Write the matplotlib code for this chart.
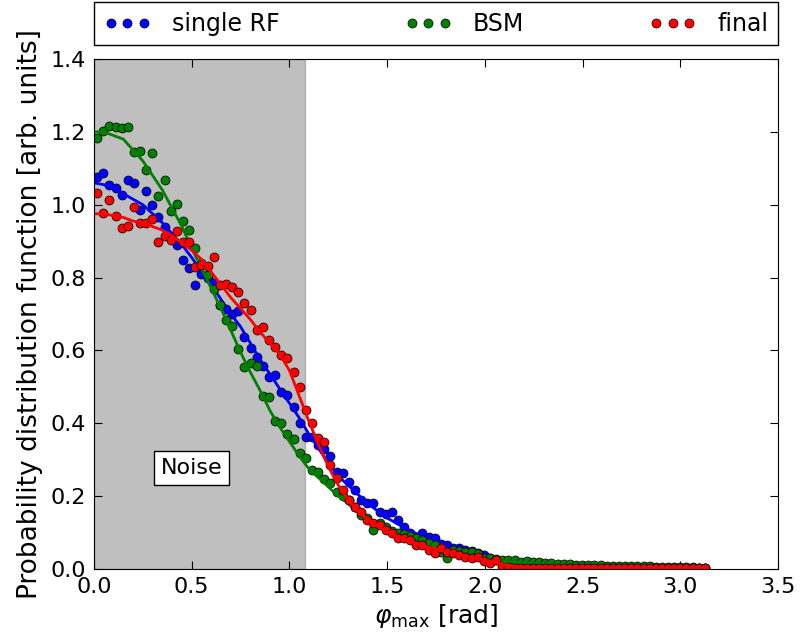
#!/usr/bin/env python3
"""Probability distribution of phi_max for single RF, BSM and final cases."""

import matplotlib
matplotlib.use('Agg')
import matplotlib.pyplot as plt
import numpy as np

# bin centres over [0, pi], 100 bins
phi = (np.arange(100) + 0.5) * np.pi / 100

single_rf = [1.077, 1.088, 1.054, 1.045, 1.027, 1.068, 1.059, 0.985, 1.037, 1.000,
             0.967, 0.938, 0.908, 0.890, 0.848, 0.825, 0.780, 0.810, 0.800, 0.784,
             0.725, 0.713, 0.700, 0.709, 0.638, 0.606, 0.581, 0.557, 0.528, 0.532,
             0.487, 0.478, 0.446, 0.400, 0.363, 0.363, 0.340, 0.330, 0.310, 0.267,
             0.263, 0.240, 0.217, 0.190, 0.180, 0.180, 0.157, 0.150, 0.157, 0.135,
             0.116, 0.098, 0.089, 0.098, 0.089, 0.084, 0.070, 0.066, 0.057, 0.057,
             0.052, 0.050, 0.045, 0.038, 0.029, 0.025, 0.015, 0.011, 0.008, 0.006,
             0.005, 0.005, 0.004, 0.004, 0.004, 0.004, 0.003, 0.003, 0.003, 0.003,
             0.003, 0.003, 0.003, 0.002, 0.002, 0.002, 0.002, 0.002, 0.002, 0.002,
             0.002, 0.002, 0.002, 0.002, 0.002, 0.002, 0.002, 0.002, 0.002, 0.002]

bsm = [1.182, 1.203, 1.217, 1.214, 1.210, 1.212, 1.146, 1.148, 1.095, 1.143,
       1.024, 1.068, 0.984, 1.002, 0.955, 0.930, 0.880, 0.840, 0.807, 0.768,
       0.725, 0.683, 0.667, 0.603, 0.554, 0.566, 0.557, 0.475, 0.471, 0.407,
       0.400, 0.370, 0.356, 0.318, 0.304, 0.272, 0.267, 0.246, 0.235, 0.212,
       0.200, 0.190, 0.170, 0.148, 0.140, 0.107, 0.125, 0.115, 0.105, 0.100,
       0.095, 0.090, 0.085, 0.080, 0.072, 0.065, 0.048, 0.030, 0.052, 0.050,
       0.048, 0.048, 0.040, 0.029, 0.030, 0.028, 0.026, 0.025, 0.025, 0.020,
       0.021, 0.019, 0.018, 0.017, 0.016, 0.015, 0.014, 0.013, 0.012, 0.012,
       0.011, 0.010, 0.010, 0.009, 0.009, 0.008, 0.008, 0.008, 0.007, 0.007,
       0.007, 0.006, 0.006, 0.006, 0.005, 0.005, 0.005, 0.005, 0.004, 0.004]

final = [1.031, 0.976, 1.013, 0.969, 0.935, 0.942, 0.995, 0.949, 0.949, 0.960,
         0.898, 0.914, 0.903, 0.929, 0.898, 0.898, 0.830, 0.834, 0.832, 0.856,
         0.780, 0.781, 0.775, 0.761, 0.729, 0.711, 0.656, 0.663, 0.630, 0.610,
         0.587, 0.578, 0.542, 0.500, 0.436, 0.400, 0.359, 0.349, 0.285, 0.249,
         0.217, 0.189, 0.171, 0.157, 0.135, 0.125, 0.121, 0.107, 0.098, 0.084,
         0.084, 0.080, 0.066, 0.066, 0.052, 0.043, 0.057, 0.048, 0.043, 0.038,
         0.034, 0.029, 0.034, 0.023, 0.016, 0.025, 0.006, 0.005, 0.004, 0.003,
         0.003, 0.003, 0.003, 0.003, 0.003, 0.003, 0.003, 0.002, 0.002, 0.002,
         0.002, 0.002, 0.002, 0.002, 0.002, 0.002, 0.002, 0.002, 0.002, 0.002,
         0.002, 0.002, 0.002, 0.002, 0.002, 0.002, 0.002, 0.002, 0.002, 0.002]

# smooth fits
phi_fit = [0.0, 0.05, 0.1, 0.15, 0.2, 0.25, 0.3, 0.35, 0.4, 0.45,
           0.5, 0.55, 0.6, 0.65, 0.7, 0.75, 0.8, 0.85, 0.9, 0.95,
           1.0, 1.05, 1.1, 1.15, 1.2, 1.25, 1.3, 1.35, 1.4, 1.45,
           1.5, 1.55, 1.6, 1.65, 1.7, 1.75, 1.8, 1.85, 1.9, 1.95,
           2.0, 2.05, 2.1, 2.15, 2.2, 2.4, 2.6, 2.8, 3.0, 3.14]

single_rf_fit = [1.060, 1.055, 1.045, 1.030, 1.015, 1.000, 0.975, 0.950, 0.920, 0.890,
                 0.855, 0.815, 0.780, 0.740, 0.700, 0.665, 0.620, 0.575, 0.535, 0.495,
                 0.455, 0.415, 0.370, 0.330, 0.290, 0.255, 0.230, 0.205, 0.180, 0.160,
                 0.140, 0.125, 0.110, 0.097, 0.087, 0.075, 0.065, 0.056, 0.047, 0.040,
                 0.032, 0.024, 0.016, 0.010, 0.007, 0.004, 0.003, 0.002, 0.002, 0.002]

bsm_fit = [1.200, 1.200, 1.190, 1.180, 1.150, 1.120, 1.080, 1.040, 0.990, 0.940,
           0.880, 0.825, 0.770, 0.715, 0.655, 0.595, 0.540, 0.490, 0.435, 0.390,
           0.350, 0.310, 0.275, 0.250, 0.225, 0.200, 0.180, 0.155, 0.135, 0.120,
           0.105, 0.095, 0.085, 0.075, 0.065, 0.058, 0.050, 0.045, 0.038, 0.033,
           0.028, 0.024, 0.021, 0.019, 0.017, 0.011, 0.008, 0.006, 0.004, 0.003]

final_fit = [0.975, 0.975, 0.970, 0.965, 0.955, 0.950, 0.940, 0.930, 0.915, 0.895,
             0.875, 0.850, 0.815, 0.780, 0.745, 0.715, 0.685, 0.650, 0.620, 0.590,
             0.545, 0.475, 0.405, 0.340, 0.280, 0.230, 0.190, 0.160, 0.135, 0.118,
             0.103, 0.090, 0.080, 0.070, 0.062, 0.055, 0.048, 0.042, 0.036, 0.030,
             0.025, 0.018, 0.012, 0.008, 0.005, 0.003, 0.002, 0.002, 0.002, 0.002]

noise_limit = 1.08

plt.rcParams['font.family'] = 'DejaVu Sans'
plt.rcParams['mathtext.fontset'] = 'dejavusans'

fig = plt.figure(figsize=(8.05, 6.39), dpi=100)
ax = fig.add_axes([0.1168, 0.1095, 0.8497, 0.7982])

ax.axvspan(0, noise_limit, color='gray', alpha=0.5, lw=1, zorder=0)

series = [(single_rf, single_rf_fit, 'blue', 'single RF'),
          (bsm, bsm_fit, 'green', 'BSM'),
          (final, final_fit, 'red', 'final')]

handles = []
for pts, fit, col, lab in series:
    h, = ax.plot(phi, pts, 'o', color=col, markersize=6.5,
                 markeredgecolor='black', markeredgewidth=0.5, label=lab)
    ax.plot(phi_fit, fit, '-', color=col, lw=2)
    handles.append(h)

ax.text(0.5, 0.277, 'Noise', fontsize=16, ha='center', va='center',
        bbox=dict(facecolor='white', edgecolor='black', pad=5))

ax.set_xlim(0, 3.5)
ax.set_ylim(0, 1.4)
ax.set_xticks(np.arange(0, 3.51, 0.5))
ax.set_yticks(np.arange(0, 1.41, 0.2))
ax.tick_params(direction='in', length=6, top=True, right=True, labelsize=16, pad=6)

ax.set_xlabel(r'$\varphi_{\max}$ [rad]', fontsize=18, labelpad=3)
ax.set_ylabel('Probability distribution function [arb. units]', fontsize=19, labelpad=5)

leg = ax.legend(handles=handles, bbox_to_anchor=(0., 1.027, 1., 0.073), loc=3,
                ncol=3, mode='expand', borderaxespad=0., numpoints=3,
                fontsize=17, fancybox=False, framealpha=1, handletextpad=0.9,
                handlelength=2.0)
leg.get_frame().set_edgecolor('black')

plt.savefig('out.png', dpi=100, facecolor='white')
plt.close()
